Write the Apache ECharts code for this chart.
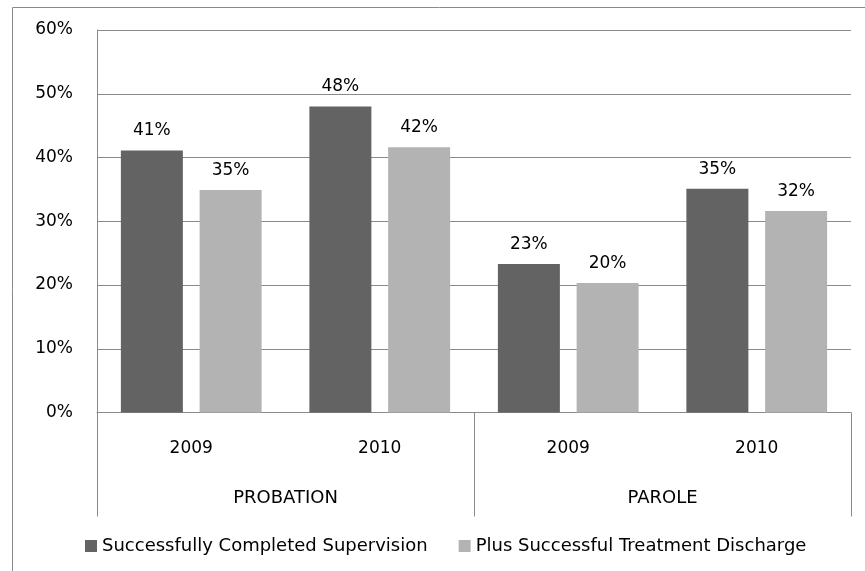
<!DOCTYPE html>
<html>
<head>
<meta charset="utf-8">
<script src="https://cdn.jsdelivr.net/npm/echarts@6/dist/echarts.min.js"></script>
<style>html,body{margin:0;padding:0;background:#fff}#c{width:865px;height:571px}</style>
</head>
<body>
<div id="c"></div>
<script>
var years = ['2009', '2010', '2009', '2010'];
var groups = ['PROBATION', 'PAROLE'];
var seriesNames = ['Successfully Completed Supervision', 'Plus Successful Treatment Discharge'];
var completed = [0.411, 0.480, 0.233, 0.351];
var treatment = [0.349, 0.416, 0.203, 0.316];
var yTicks = [0, 0.1, 0.2, 0.3, 0.4, 0.5, 0.6];

var font = 'DejaVu Sans';
var grey = '#8a8a8a';
var chart = echarts.init(document.getElementById('c'));
function pct(v) { return Math.round(v * 100) + '%'; }
chart.setOption({
  animation: false,
  backgroundColor: '#fff',
  textStyle: { fontFamily: font },
  graphic: [{
    type: 'rect', shape: { x: 12.5, y: 7.5, width: 900, height: 600 },
    style: { fill: 'none', stroke: grey, lineWidth: 1 }, silent: true
  }],
  grid: { left: 97, right: 14, top: 30, bottom: 158.5, containLabel: false },
  legend: {
    top: 537, left: 85, padding: 0,
    icon: 'rect', itemWidth: 12, itemHeight: 12, itemGap: 31, itemStyle: { borderWidth: 0 },
    textStyle: { fontFamily: font, fontSize: 18, color: '#000', padding: [0, 0, 0, 0] },
    data: seriesNames
  },
  xAxis: [{
    type: 'category', data: years,
    axisLine: { show: true, lineStyle: { color: grey } },
    axisTick: { show: false },
    axisLabel: { margin: 28, fontFamily: font, fontSize: 17, color: '#000' }
  }, {
    type: 'category', data: groups, position: 'bottom',
    axisLine: { show: false },
    axisTick: { show: true, length: 104, lineStyle: { color: grey } },
    axisLabel: { margin: 77, fontFamily: font, fontSize: 18, color: '#000' }
  }],
  yAxis: {
    type: 'value', min: yTicks[0], max: yTicks[yTicks.length - 1], interval: 0.1,
    axisLine: { show: true, lineStyle: { color: grey } },
    axisTick: { show: false },
    splitLine: { lineStyle: { color: grey } },
    axisLabel: { margin: 24, fontFamily: font, fontSize: 17, color: '#000', formatter: pct }
  },
  series: [{
    name: seriesNames[0], type: 'bar', data: completed,
    barWidth: 62, barGap: '27%',
    itemStyle: { color: '#636363' },
    label: { show: true, position: 'top', distance: 11, fontFamily: font, fontSize: 17, color: '#000', formatter: function (p) { return pct(p.value); } }
  }, {
    name: seriesNames[1], type: 'bar', data: treatment,
    barWidth: 62, barGap: '27%',
    itemStyle: { color: '#b3b3b3' },
    label: { show: true, position: 'top', distance: 11, fontFamily: font, fontSize: 17, color: '#000', formatter: function (p) { return pct(p.value); } }
  }]
});
</script>
</body>
</html>
